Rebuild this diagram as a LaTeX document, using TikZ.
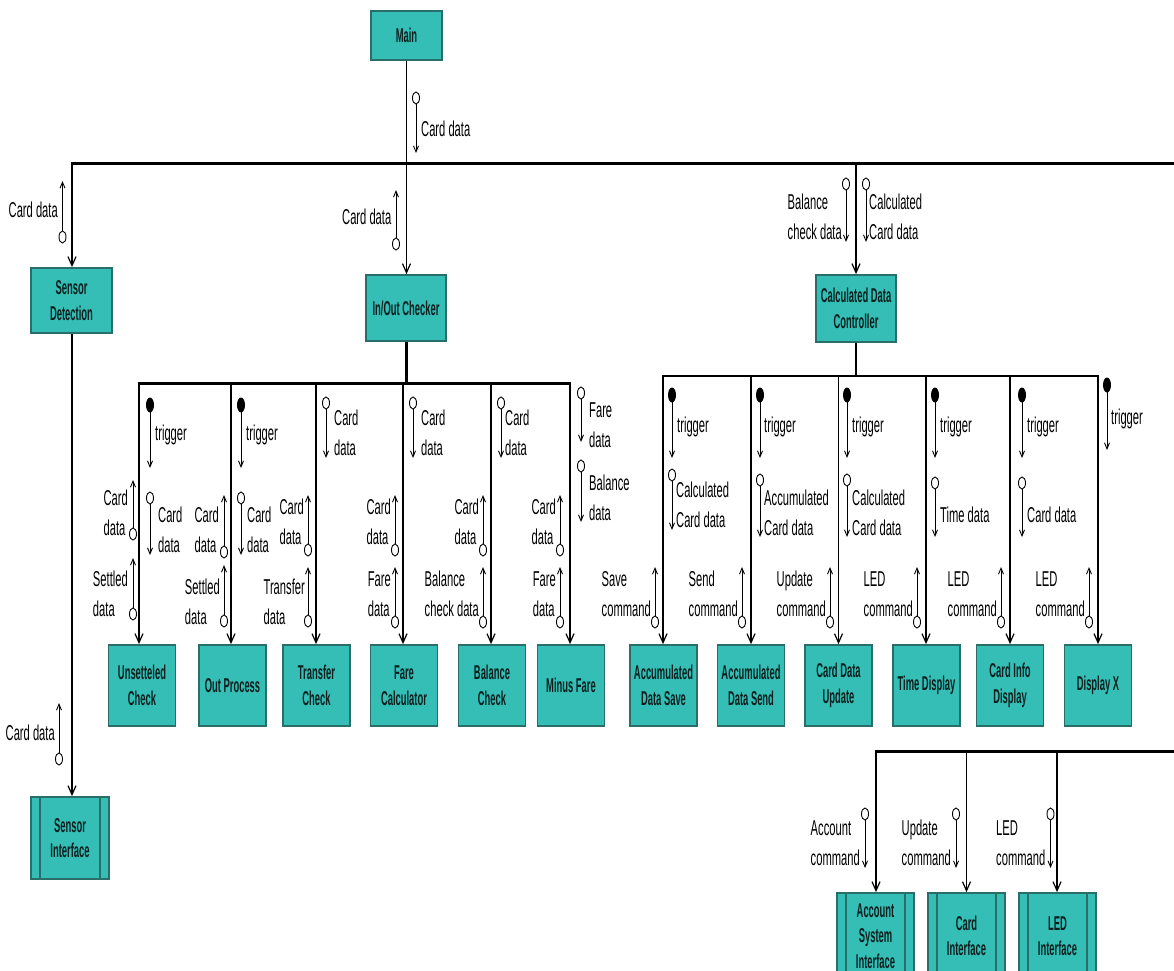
\documentclass[tikz,border=0pt]{standalone}
\usepackage{fontspec}
\setmainfont{Liberation Sans}[FakeStretch=0.52]
\newfontfamily\boxfont{Liberation Sans}[FakeStretch=0.47]
\usetikzlibrary{arrows.meta}
\definecolor{boxfill}{HTML}{34BEB5}
\definecolor{boxedge}{HTML}{2A6E69}
\definecolor{boxtext}{HTML}{0D1F1E}
\tikzset{
  module/.style={draw=boxedge, line width=1.8pt, fill=boxfill, inner sep=0pt, align=center,
    text=boxtext, font={\boxfont\bfseries\fontsize{20}{25.5}\selectfont}},
  conn/.style={line width=1.4pt, -{Straight Barb[length=9pt,width=8pt,line width=1.2pt]}},
  plainline/.style={line width=1.4pt},
  busline/.style={line width=3pt},
  labarrow/.style={line width=0.9pt, -{Straight Barb[length=6pt,width=5pt,line width=0.9pt]}},
  hollowc/.style={draw, line width=0.9pt, fill=white},
  lab/.style={inner sep=0pt, align=left, font={\fontsize{21.5}{30}\selectfont}},
  inner/.style={draw=boxedge, line width=1.8pt}
}
% label arrows: x, y of circle, y of tip
\newcommand\labDn[3]{\draw[labarrow] (#1,{#2+6}) -- (#1,#3); \draw[hollowc] (#1,#2) ellipse[x radius=3.5pt,y radius=6pt];}
\newcommand\labDnF[3]{\draw[labarrow] (#1,{#2+7}) -- (#1,#3); \fill (#1,#2) ellipse[x radius=4pt,y radius=7.5pt];}
\newcommand\labUp[3]{\draw[labarrow] (#1,{#2-6}) -- (#1,#3); \draw[hollowc] (#1,#2) ellipse[x radius=3.5pt,y radius=6pt];}
\begin{document}
\begin{tikzpicture}[x=1pt,y=-1pt]
\useasboundingbox (0,0) rectangle (1174,970);
\clip (0,0) rectangle (1174,970);

% ---------- modules ----------
\node[module,minimum width=71pt,minimum height=49pt] (m) at (406.5,35.5) {Main};
\node[module,minimum width=81pt,minimum height=65pt] (sd) at (71.5,300.5) {Sensor\\Detection};
\node[module,minimum width=80pt,minimum height=66pt] (io) at (406,308) {In/Out Checker};
\node[module,minimum width=80pt,minimum height=67pt] (cdc) at (856,308.5) {Calculated Data\\Controller};

\foreach \n/\x/\t in {u1/142/{Unsetteled\\Check}, u2/232.5/{Out Process}, u3/316.5/{Transfer\\Check},
  u4/404/{Fare\\Calculator}, u5/492/{Balance\\Check}, u6/571/{Minus Fare},
  v1/663.5/{Accumulated\\Data Save}, v2/751/{Accumulated\\Data Send}, v3/838.5/{Card Data\\Update},
  v4/926.5/{Time Display}, v5/1010/{Card Info\\Display}, v6/1098/{Display X}}
  \node[module,minimum width=67pt,minimum height=81pt] (\n) at (\x,685.5) {\t};

% interface modules (predefined process)
\node[module,minimum width=78pt,minimum height=82pt] (si) at (70,838) {Sensor\\Interface};
\node[module,minimum width=77pt,minimum height=86pt] (w1) at (875.5,936) {Account\\System\\Interface};
\node[module,minimum width=77pt,minimum height=86pt] (w2) at (966.5,936) {Card\\Interface};
\node[module,minimum width=77pt,minimum height=86pt] (w3) at (1057.5,936) {LED\\Interface};
\foreach \n in {si,w1,w2,w3}{
  \draw[inner] ([xshift=10pt]\n.north west) -- ([xshift=10pt]\n.south west);
  \draw[inner] ([xshift=-10pt]\n.north east) -- ([xshift=-10pt]\n.south east);
}

% ---------- buses and connectors ----------
\coordinate (tbL) at (72,163);
\coordinate (tbR) at (1180,163);
\coordinate (tbC) at (856,163);
\draw[busline] (71.3,163) -- (tbR);
\draw[conn] (tbL) -- (tbL |- sd.north);
\draw[conn] (m.south) -- (m.south |- io.north);
\draw[conn] (tbC) -- (tbC |- cdc.north);
\draw[conn] (sd.south -| tbL) -- (tbL |- si.north);

% In/Out bus
\coordinate (ioL) at (139,383);
\coordinate (ioR) at (570,383);
\draw[busline] (io.south) -- (io.south |- ioL);
\draw[busline] ([xshift=-0.7pt]ioL) -- ([xshift=0.7pt]ioR);
\foreach \n/\x in {u1/139,u2/231,u3/316,u4/403,u5/491,u6/570}{
  \coordinate (b\n) at (\x,383);
  \draw[conn] (b\n) -- (b\n |- \n.north);
}

% Calculated data bus
\coordinate (cdL) at (663,376);
\coordinate (cdR) at (1098,376);
\draw[plainline] (cdc.south) -- (cdc.south |- cdL);
\draw[line width=2.6pt] ([xshift=-0.7pt]cdL) -- ([xshift=0.7pt]cdR);
\foreach \n/\x in {v1/663,v2/751,v3/838.5,v4/926,v5/1010,v6/1098}{
  \coordinate (b\n) at (\x,376);
  \draw[conn] (b\n) -- (b\n |- \n.north);
}

% bottom bus
\coordinate (lbL) at (876,751);
\coordinate (lbR) at (1180,751);
\draw[busline] ([xshift=-0.7pt]lbL) -- (lbR);
\foreach \n/\x in {w1/876,w2/966.5,w3/1057}{
  \coordinate (b\n) at (\x,751);
  \draw[conn] (b\n) -- (b\n |- \n.north);
}

% ---------- data flow labels ----------
\labDn{416}{98}{153}
\node[lab,anchor=west] (t1) at (421,129) {Card data};
\labUp{62.5}{237}{181}
\node[lab,anchor=east] (t2) at (58,210) {Card data};
\labUp{396}{244}{190}
\node[lab,anchor=east] (t3) at (391.5,217) {Card data};
\labDn{846}{184}{242}
\node[lab,anchor=east] (t4) at (842,217) {Balance\\check data};
\labDn{866}{184}{242}
\node[lab,anchor=west] (t5) at (869,217) {Calculated\\Card data};
\labUp{59}{759}{703}
\node[lab,anchor=east] (t6) at (55,733) {Card data};

% Unsetteled Check
\labDnF{150}{405}{468}
\node[lab,anchor=west] (a1) at (155,435) {trigger};
\labDn{150}{498}{555}
\node[lab,anchor=west] (a2) at (158,530) {Card\\data};
\labUp{133}{534}{480}
\node[lab,anchor=east] (a3) at (128,513) {Card\\data};
\labUp{133}{614}{558}
\node[lab,anchor=east] (a4) at (128,594) {Settled\\data};

% Out Process
\labDnF{241}{405}{468}
\node[lab,anchor=west] (b1) at (246,435) {trigger};
\labDn{241}{498}{555}
\node[lab,anchor=west] (b2) at (247,530) {Card\\data};
\labUp{224}{552}{495}
\node[lab,anchor=east] (b3) at (219,530) {Card\\data};
\labUp{224}{621}{565}
\node[lab,anchor=east] (b4) at (220,602) {Settled\\data};

% Transfer Check
\labDn{326}{403}{458}
\node[lab,anchor=west] (c1) at (334,433) {Card\\data};
\labUp{308}{550}{495}
\node[lab,anchor=east] (c2) at (304,522) {Card\\data};
\labUp{308}{621}{567}
\node[lab,anchor=east] (c3) at (305,602) {Transfer\\data};

% Fare Calculator
\labDn{413}{403}{458}
\node[lab,anchor=west] (d1) at (421,433) {Card\\data};
\labUp{395}{550}{495}
\node[lab,anchor=east] (d2) at (391,522) {Card\\data};
\labUp{395}{622}{567}
\node[lab,anchor=east] (d3) at (391,594) {Fare\\data};

% Balance Check
\labDn{501}{403}{458}
\node[lab,anchor=west] (e1) at (505,433) {Card\\data};
\labUp{483}{550}{495}
\node[lab,anchor=east] (e2) at (479,522) {Card\\data};
\labUp{483}{622}{567}
\node[lab,anchor=east] (e3) at (479,594) {Balance\\check data};

% Minus Fare
\labDn{581}{393}{442}
\node[lab,anchor=west] (f1) at (589,425) {Fare\\data};
\labDn{581}{466}{522}
\node[lab,anchor=west] (f2) at (589,498) {Balance\\data};
\labUp{560}{550}{495}
\node[lab,anchor=east] (f3) at (556,522) {Card\\data};
\labUp{560}{622}{567}
\node[lab,anchor=east] (f4) at (556,594) {Fare\\data};

% Accumulated Data Save
\labDnF{672}{395}{458}
\node[lab,anchor=west] (g1) at (677,427) {trigger};
\labDn{672}{475}{530}
\node[lab,anchor=west] (g2) at (676,505) {Calculated\\Card data};
\labUp{655}{622}{567}
\node[lab,anchor=east] (g3) at (651,594) {Save\\command};

% Accumulated Data Send
\labDnF{760}{395}{458}
\node[lab,anchor=west] (h1) at (764,427) {trigger};
\labDn{760}{480}{537}
\node[lab,anchor=west] (h2) at (764,513) {Accumulated\\Card data};
\labUp{742}{622}{567}
\node[lab,anchor=east] (h3) at (738,594) {Send\\command};

% Card Data Update
\labDnF{847}{395}{458}
\node[lab,anchor=west] (i1) at (852,427) {trigger};
\labDn{847}{480}{537}
\node[lab,anchor=west] (i2) at (852,513) {Calculated\\Card data};
\labUp{830}{622}{567}
\node[lab,anchor=east] (i3) at (826,594) {Update\\command};

% Time Display
\labDnF{935}{395}{458}
\node[lab,anchor=west] (j1) at (940,427) {trigger};
\labDn{935}{483}{537}
\node[lab,anchor=west] (j2) at (940,515) {Time data};
\labUp{917}{622}{567}
\node[lab,anchor=east] (j3) at (913,594) {LED\\command};

% Card Info Display
\labDnF{1022}{395}{458}
\node[lab,anchor=west] (k1) at (1027,427) {trigger};
\labDn{1022}{483}{537}
\node[lab,anchor=west] (k2) at (1027,515) {Card data};
\labUp{1001}{622}{567}
\node[lab,anchor=east] (k3) at (997,594) {LED\\command};

% Display X
\labDnF{1107}{385}{450}
\node[lab,anchor=west] (l1) at (1111,419) {trigger};
\labUp{1089}{622}{567}
\node[lab,anchor=east] (l2) at (1085,594) {LED\\command};

% interfaces
\labDn{865}{814}{868}
\node[lab,anchor=east] (n1) at (860,843) {Account\\command};
\labDn{956}{814}{868}
\node[lab,anchor=east] (n2) at (951,843) {Update\\command};
\labDn{1050.5}{814}{868}
\node[lab,anchor=east] (n3) at (1045.5,843) {LED\\command};
\end{tikzpicture}
\end{document}
